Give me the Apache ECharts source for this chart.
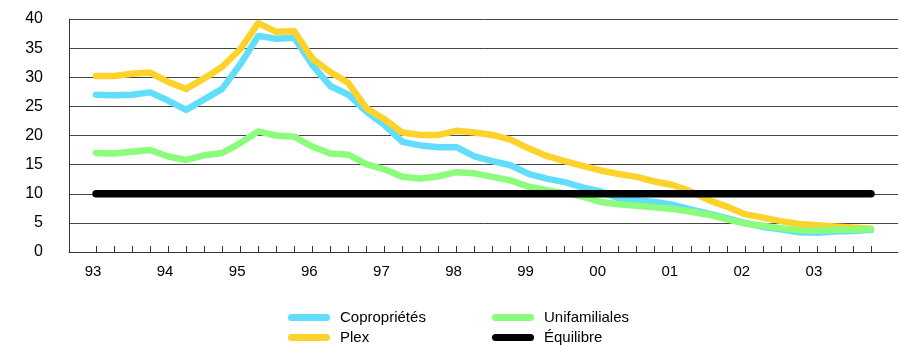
<!DOCTYPE html>
<html>
<head>
<meta charset="utf-8">
<script src="https://cdn.jsdelivr.net/npm/echarts@6/dist/echarts.min.js"></script>
<style>
  html, body { margin: 0; padding: 0; background: #fff; }
  #chart { width: 900px; height: 345px; }
</style>
</head>
<body>
<div id="chart"></div>
<script>
// Quarterly series, 1993 Q1 to 2003 Q4 (44 quarters)
const years = ['93', '94', '95', '96', '97', '98', '99', '00', '01', '02', '03'];

const coproprietes = [
  27.0, 26.9, 27.0, 27.4, 26.0, 24.4, 26.2, 28.0, 32.2, 37.1, 36.6,
  36.8, 32.1, 28.5, 27.0, 24.1, 21.8, 18.9, 18.3, 18.0, 18.0, 16.4,
  15.6, 14.9, 13.4, 12.6, 12.0, 11.1, 10.4, 9.2, 8.9, 8.6, 8.1,
  7.3, 6.6, 5.8, 5.0, 4.3, 3.9, 3.4, 3.3, 3.5, 3.6, 3.8
];
const plex = [
  30.2, 30.2, 30.6, 30.8, 29.2, 28.0, 29.8, 31.8, 34.8, 39.3, 37.8,
  37.9, 33.2, 30.9, 29.0, 24.7, 22.8, 20.5, 20.1, 20.1, 20.8, 20.5,
  20.1, 19.3, 17.8, 16.5, 15.6, 14.8, 14.0, 13.4, 12.9, 12.1, 11.5,
  10.4, 8.9, 7.8, 6.5, 5.9, 5.3, 4.8, 4.6, 4.4, 4.2, 4.0
];
const unifamiliales = [
  17.0, 16.9, 17.2, 17.5, 16.4, 15.8, 16.6, 17.0, 18.7, 20.7, 20.0,
  19.8, 18.1, 16.9, 16.7, 15.1, 14.2, 12.9, 12.6, 13.0, 13.7, 13.5,
  12.9, 12.3, 11.2, 10.6, 10.1, 9.5, 8.6, 8.2, 7.95, 7.7, 7.4,
  6.9, 6.4, 5.6, 4.9, 4.5, 4.1, 3.7, 3.7, 3.8, 3.8, 3.9
];
const equilibre = [
  10, 10, 10, 10, 10, 10, 10, 10, 10, 10, 10,
  10, 10, 10, 10, 10, 10, 10, 10, 10, 10, 10,
  10, 10, 10, 10, 10, 10, 10, 10, 10, 10, 10,
  10, 10, 10, 10, 10, 10, 10, 10, 10, 10, 10
];
const yTicks = [0, 5, 10, 15, 20, 25, 30, 35, 40];

// Category slots: one empty slot on each side of the quarters
const categories = [''];
years.forEach(y => { for (let q = 1; q <= 4; q++) categories.push(y + ' T' + q); });
categories.push(' ');

const pad = arr => ['-'].concat(arr, ['-']);

const FONT = "'Liberation Sans', Arial, sans-serif";
const capsule = 'path://M3.5,0L38.5,0A3.5,3.5,0,0,1,38.5,7L3.5,7A3.5,3.5,0,0,1,3.5,0Z';

function lineSeries(name, data, color, width) {
  return {
    name: name,
    type: 'line',
    data: pad(data),
    symbol: 'none',
    showSymbol: false,
    itemStyle: { color: color },
    lineStyle: { color: color, width: width, cap: 'round', join: 'round' },
    emphasis: { disabled: true }
  };
}

const legendCommon = {
  orient: 'vertical',
  top: 310,
  padding: 0,
  itemWidth: 42,
  itemHeight: 7,
  itemGap: 5,
  icon: capsule,
  selectedMode: false,
  textStyle: { fontFamily: FONT, fontSize: 15, color: '#000', lineHeight: 15, padding: [0, 0, 0, 5] }
};

const chart = echarts.init(document.getElementById('chart'), null, { renderer: 'canvas' });
chart.setOption({
  animation: false,
  backgroundColor: '#fff',
  grid: { left: 69, right: 2, top: 19, bottom: 93, containLabel: false },
  legend: [
    Object.assign({}, legendCommon, { left: 288, data: ['Copropriétés', 'Plex'] }),
    Object.assign({}, legendCommon, { left: 492, data: ['Unifamiliales', 'Équilibre'] })
  ],
  xAxis: {
    type: 'category',
    data: categories,
    boundaryGap: true,
    axisLine: { show: true, lineStyle: { color: '#333', width: 1 } },
    axisTick: {
      show: true,
      inside: true,
      length: 6,
      alignWithLabel: true,
      interval: (i, v) => v.trim() !== '',
      lineStyle: { color: '#333', width: 1 }
    },
    axisLabel: {
      interval: (i, v) => v.endsWith('T1'),
      formatter: v => v.split(' ')[0],
      margin: 12,
      padding: [0, 6, 0, 0],
      fontFamily: FONT,
      fontSize: 15,
      color: '#000'
    },
    splitLine: { show: false }
  },
  yAxis: {
    type: 'value',
    min: yTicks[0],
    max: yTicks[yTicks.length - 1],
    interval: 5,
    axisLine: { show: true, lineStyle: { color: '#333', width: 1 } },
    axisTick: { show: false },
    axisLabel: { margin: 26, fontFamily: FONT, fontSize: 16, color: '#000' },
    splitLine: { show: true, lineStyle: { color: '#444', width: 1 } }
  },
  series: [
    lineSeries('Copropriétés', coproprietes, '#62DEFC', 6.5),
    lineSeries('Plex', plex, '#FDD22B', 6.5),
    lineSeries('Unifamiliales', unifamiliales, '#8CFC7C', 6.5),
    lineSeries('Équilibre', equilibre, '#000000', 7.5)
  ]
});
</script>
</body>
</html>
